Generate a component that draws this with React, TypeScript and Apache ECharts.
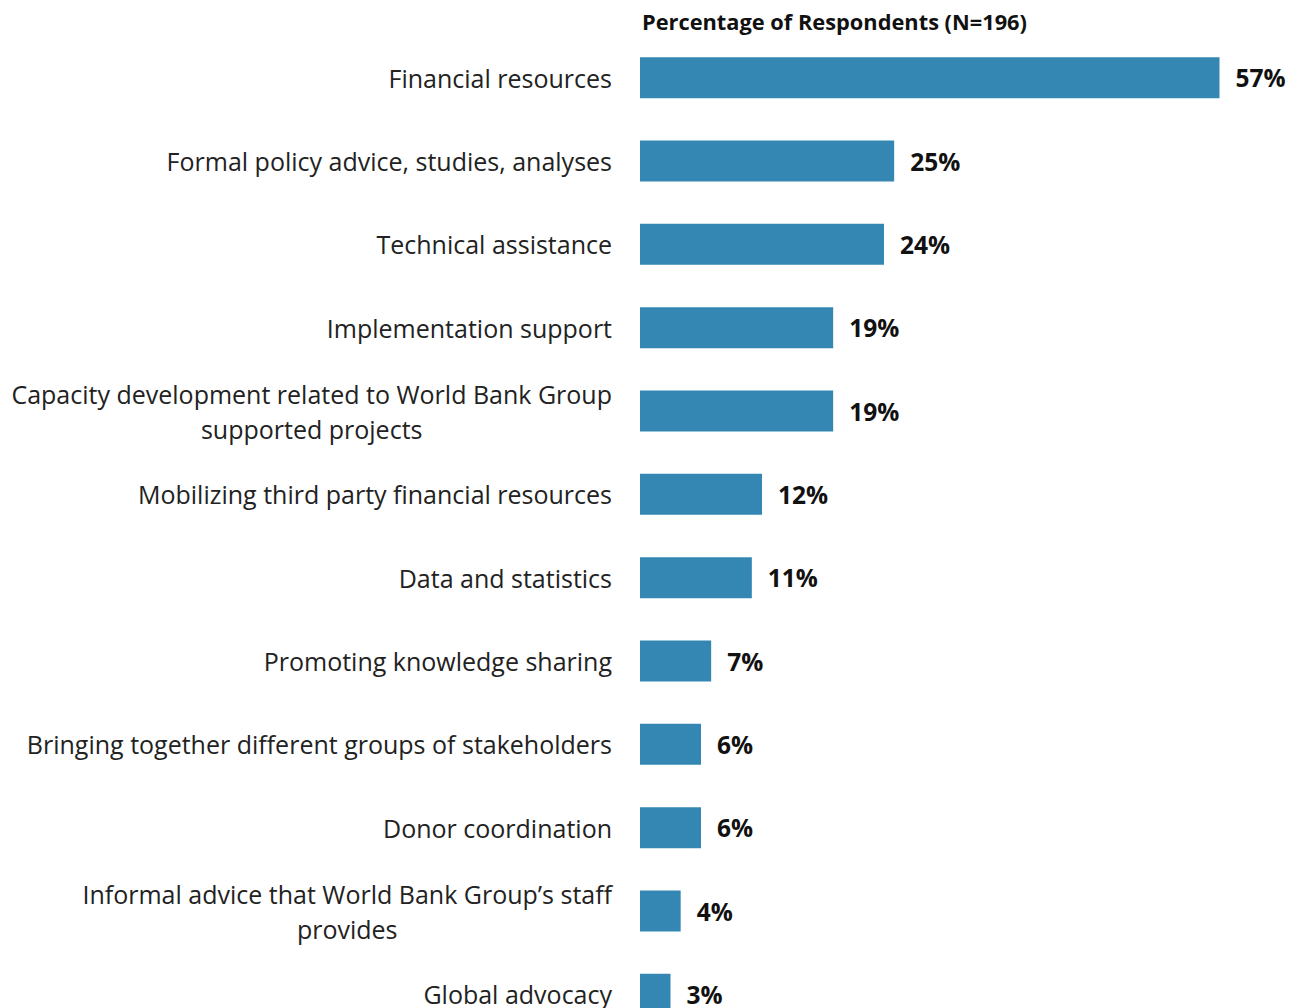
import React, { useEffect, useRef } from "react";
import * as echarts from "echarts";

const categories = [
  "Financial resources",
  "Formal policy advice, studies, analyses",
  "Technical assistance",
  "Implementation support",
  "Capacity development related to World Bank Group\nsupported projects",
  "Mobilizing third party financial resources",
  "Data and statistics",
  "Promoting knowledge sharing",
  "Bringing together different groups of stakeholders",
  "Donor coordination",
  "Informal advice that World Bank Group\u2019s staff\nprovides",
  "Global advocacy",
];

const values = [57, 25, 24, 19, 19, 12, 11, 7, 6, 6, 4, 3];

const titleText = "Percentage of Respondents (N=196)";

const FONT = "Open Sans";

export default function App() {
  const ref = useRef<HTMLDivElement>(null);

  useEffect(() => {
    if (!ref.current) return;
    const chart = echarts.init(ref.current, undefined, { renderer: "svg" });
    chart.setOption({
      animation: false,
      backgroundColor: "#ffffff",
      title: {
        text: titleText,
        left: 637,
        top: 5,
        textStyle: {
          fontFamily: FONT,
          fontWeight: "bold",
          fontSize: 21.8,
          color: "#111111",
        },
      },
      grid: {
        left: 640,
        top: 36,
        width: 610,
        height: 1000,
        containLabel: false,
      },
      xAxis: {
        type: "value",
        min: 0,
        max: 60,
        show: false,
        splitLine: { show: false },
      },
      yAxis: {
        type: "category",
        inverse: true,
        data: categories,
        axisLine: { show: false },
        axisTick: { show: false },
        splitLine: { show: false },
        axisLabel: {
          margin: 28,
          align: "right",
          formatter: (v: string) =>
            v
              .split("\n")
              .map((l) => `{c|${l}}`)
              .join("\n"),
          rich: {
            c: {
              align: "center",
              fontFamily: FONT,
              fontSize: 25,
              lineHeight: 35,
              color: "#222222",
            },
          },
        },
      },
      series: [
        {
          type: "bar",
          data: values,
          barWidth: 41,
          itemStyle: { color: "#3487B3" },
          label: {
            show: true,
            position: "right",
            distance: 16,
            formatter: "{c}%",
            fontFamily: FONT,
            fontWeight: "bold",
            fontSize: 24.5,
            color: "#111111",
          },
        },
      ],
    });
    return () => chart.dispose();
  }, []);

  return (
    <div
      ref={ref}
      style={{
        position: "fixed",
        left: 0,
        top: 0,
        width: 1301,
        height: 1050,
        background: "#ffffff",
      }}
    />
  );
}
